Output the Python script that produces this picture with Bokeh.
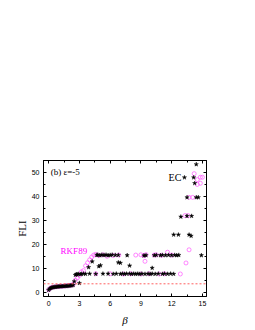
from bokeh.plotting import figure
from bokeh.models import (LinearAxis, SingleIntervalTicker, Range1d, Label, Span,
                          CustomLabelingPolicy)
from bokeh.embed import file_html
from bokeh.resources import INLINE

# EC (black stars)
ec_x = [0.0, 0.1, 0.2, 0.3, 0.4, 0.5, 0.6, 0.7, 0.8, 0.9, 1.0, 1.1, 1.2, 1.3, 1.4,
        1.5, 1.6, 1.7, 1.8, 1.9, 2.0, 2.1, 2.2, 2.3, 2.4,
        2.5, 2.6, 2.7, 2.8, 2.9, 3.0, 3.1, 3.2, 3.4, 3.6, 3.9, 4.0, 4.25, 4.6,
        4.7, 4.8, 4.9, 5.0, 5.06, 5.2, 5.3, 5.4, 5.6, 5.8, 5.8, 6.0, 6.2, 6.3, 6.5,
        6.6, 6.8, 6.8, 7.0, 7.0, 7.2, 7.4, 7.6, 7.66, 7.9, 7.9, 8.1, 8.3, 8.5, 8.7,
        8.9, 9.1, 9.3, 9.4, 9.5, 9.7, 9.9, 10.1, 10.1, 10.3, 10.4, 10.5, 10.7, 10.9,
        11.1, 11.1, 11.3, 11.4, 11.6, 11.7, 11.9, 12.0, 12.2, 12.3, 12.5, 12.7,
        12.2, 12.66, 13.7, 13.9, 12.9, 13.5, 13.95, 13.5, 14.4, 14.6,
        13.25, 14.15, 14.25, 14.4, 14.9]
ec_y = [0.9, 1.4, 1.7, 1.9, 2.0, 2.1, 2.2, 2.2, 2.3, 2.3, 2.4, 2.4, 2.4, 2.5, 2.5,
        2.5, 2.6, 2.6, 2.6, 2.7, 2.7, 2.8, 2.8, 2.9, 3.0,
        4.5, 7.2, 7.5, 7.4, 7.6, 3.8, 7.5, 7.6, 7.7, 7.6, 10.4, 7.7, 12.8, 7.6,
        15.5, 15.6, 10.8, 15.4, 11.2, 15.6, 7.7, 15.5, 15.6, 15.4, 7.7, 15.5, 15.6, 7.6, 15.5,
        7.7, 12.4, 15.5, 7.6, 12.2, 7.7, 7.6, 7.7, 15.4, 11.1, 7.7, 7.6, 7.7, 7.6, 7.7,
        7.6, 7.7, 15.3, 7.6, 15.4, 7.7, 7.6, 10.1, 7.7, 15.4, 7.6, 15.5, 7.7, 15.4,
        15.5, 7.6, 7.7, 15.4, 7.6, 15.5, 7.7, 15.4, 7.6, 15.5, 15.4, 15.5,
        24.0, 24.0, 24.0, 23.5, 31.5, 31.8, 31.8, 39.6, 39.6, 39.6,
        47.9, 47.9, 45.5, 53.4, 15.4]

# RKF89 (magenta open circles)
rkf_x = [0.0, 0.2, 0.4, 0.6, 0.8, 1.0, 1.2, 1.4, 1.6, 1.8, 2.0, 2.2, 2.4,
         2.6, 2.8, 3.0, 3.2, 3.4, 3.6, 3.8, 4.0, 4.2, 4.4, 4.6, 4.9, 5.3, 5.7,
         6.3, 6.85, 4.6, 6.0, 7.3, 8.0, 9.0, 9.8, 10.8, 11.3, 12.85,
         8.5, 9.0, 9.3, 9.5, 10.3, 10.5, 11.0, 11.6, 12.0,
         9.4, 13.4, 13.7, 13.3, 13.6, 13.7, 14.05,
         14.2, 14.5, 14.8, 15.0, 14.8, 14.5]
rkf_y = [1.0, 1.8, 2.1, 2.2, 2.3, 2.4, 2.5, 2.5, 2.6, 2.7, 2.8, 2.9, 3.3,
         5.0, 6.0, 7.0, 8.5, 9.0, 11.0, 12.3, 13.5, 14.7, 15.5, 15.8, 15.3, 15.6, 15.0,
         15.3, 15.5, 7.7, 7.7, 7.6, 7.7, 7.6, 7.7, 7.6, 7.7, 7.6,
         15.5, 15.6, 15.3, 15.7, 15.5, 15.6, 15.4, 16.7, 15.5,
         12.9, 12.2, 17.7, 32.0, 32.0, 39.6, 39.6,
         49.5, 47.0, 48.0, 48.0, 45.5, 45.0]

ref_level = 3.5
x_range = (-0.5, 15.4)
y_range = (-1.8, 55.0)

p = figure(width=239, height=328, output_backend="svg", toolbar_location=None,
           x_range=Range1d(*x_range), y_range=Range1d(*y_range),
           min_border_left=43, min_border_right=33, min_border_top=160,
           min_border_bottom=31, background_fill_color="white",
           border_fill_color="white")
p.xgrid.visible = False
p.ygrid.visible = False
p.outline_line_color = "black"
p.outline_line_width = 1

p.xaxis.ticker = SingleIntervalTicker(interval=3, num_minor_ticks=2)
p.yaxis.ticker = SingleIntervalTicker(interval=10, num_minor_ticks=2)

for ax in (p.xaxis[0], p.yaxis[0]):
    ax.major_tick_in = 3
    ax.major_tick_out = 0
    ax.minor_tick_in = 2
    ax.minor_tick_out = 0
    ax.axis_line_color = "black"
    ax.major_tick_line_color = "black"
    ax.minor_tick_line_color = "black"
    ax.major_label_text_font = "Liberation Sans"
    ax.major_label_text_font_size = "7px"
    ax.major_label_text_color = "black"
    ax.major_label_standoff = 4
    ax.axis_label_text_font = "Liberation Serif"
    ax.axis_label_text_font_style = "normal"
    ax.axis_label_text_color = "black"

p.xaxis.axis_label = "β"
p.xaxis.axis_label_text_font_style = "italic"
p.xaxis.axis_label_text_font_size = "11px"
p.xaxis.axis_label_standoff = 5
p.yaxis.axis_label = "FLI"
p.yaxis.axis_label_text_font_size = "11px"
p.yaxis.axis_label_standoff = 1

top = LinearAxis(ticker=SingleIntervalTicker(interval=3, num_minor_ticks=2),
                 major_tick_in=3, major_tick_out=0, minor_tick_in=2, minor_tick_out=0,
                 major_label_policy=CustomLabelingPolicy(code="return new Set()"))
right = LinearAxis(ticker=SingleIntervalTicker(interval=10, num_minor_ticks=2),
                   major_tick_in=3, major_tick_out=0, minor_tick_in=2, minor_tick_out=0,
                   major_label_policy=CustomLabelingPolicy(code="return new Set()"))
p.add_layout(top, "above")
p.add_layout(right, "right")

p.add_layout(Span(location=ref_level, dimension="width", line_color="#ff6060",
                  line_dash="2 2", line_width=1))

p.scatter(rkf_x, rkf_y, marker="circle", size=4, fill_color=None,
          line_color="#ff55ff", line_width=0.7)
p.scatter(ec_x, ec_y, marker="star", size=4.5, fill_color="black",
          line_color="black", line_width=0.4)

p.add_layout(Label(x=0.2, y=50.2, text="(b) ε=-5", text_font="Liberation Serif",
                   text_font_size="9px", text_color="black", text_baseline="middle"))
p.add_layout(Label(x=11.7, y=48.0, text="EC", text_font="Liberation Serif",
                   text_font_size="10px", text_color="black", text_baseline="middle"))
p.add_layout(Label(x=1.17, y=17.4, text="RKF89", text_font="Liberation Serif",
                   text_font_size="9px", text_color="#ff00ff", text_baseline="middle"))

open("out.html", "w").write(file_html(p, INLINE))
